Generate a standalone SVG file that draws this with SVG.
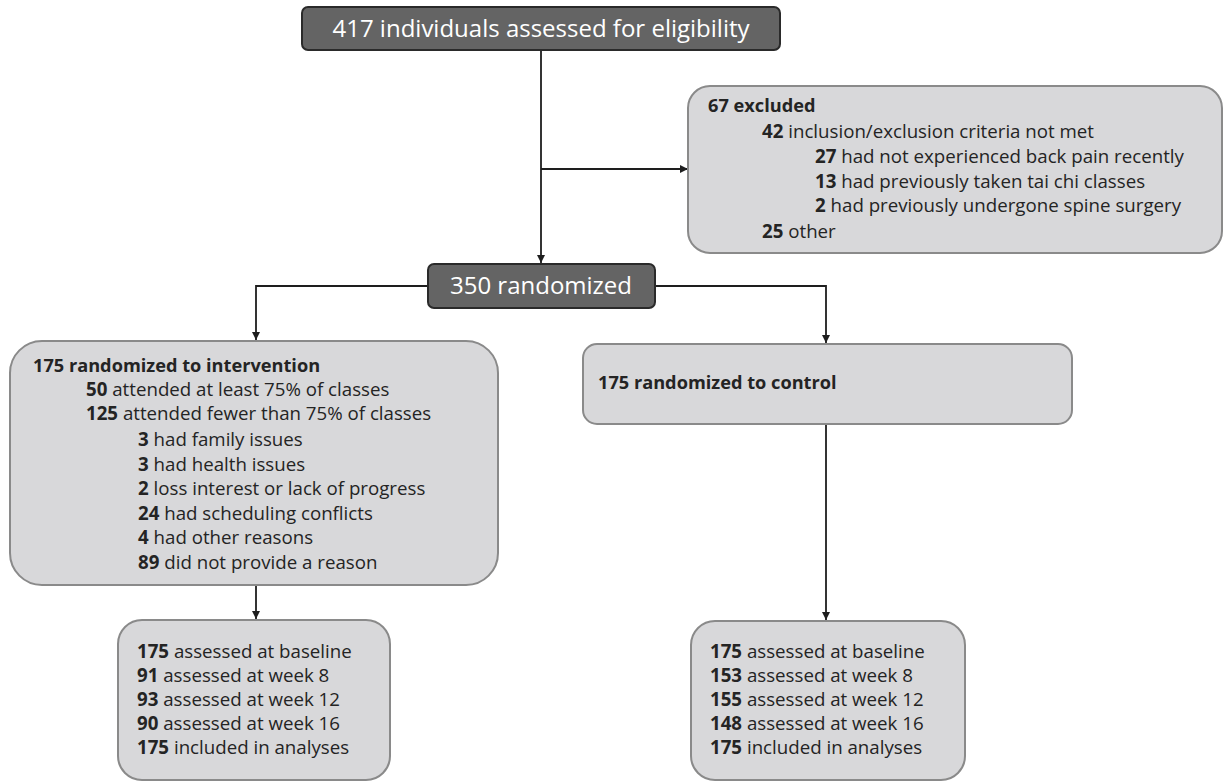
<svg xmlns="http://www.w3.org/2000/svg" width="1224" height="782" viewBox="0 0 1224 782">
<defs>
<marker id="arr" viewBox="0 0 10 10" refX="10" refY="5" markerWidth="9" markerHeight="8" markerUnits="userSpaceOnUse" orient="auto">
<path d="M0,0 L10,5 L0,10 z" fill="#1e1e1e"/>
</marker>
</defs>
<style>
.dark{fill:#646464;stroke:#2a2a2a;stroke-width:2}
.light{fill:#d8d8da;stroke:#8a8a8a;stroke-width:2}
.ht{font-family:"Open Sans","Liberation Sans",Arial,sans-serif;font-size:24px;fill:#ffffff}
.t{font-family:"Open Sans","Liberation Sans",Arial,sans-serif;font-size:18.7px;fill:#242424}
.b{font-weight:bold}
.h{font-weight:bold;font-size:18.2px}
.conn{fill:none;stroke:#1e1e1e;stroke-width:1.8}
</style>
<rect width="1224" height="782" fill="#ffffff"/>
<g id="connectors">
<path class="conn" d="M541,50 L541,263" marker-end="url(#arr)"/>
<path class="conn" d="M541,169 L688,169" marker-end="url(#arr)"/>
<path class="conn" d="M428,286 L256,286 L256,340" marker-end="url(#arr)"/>
<path class="conn" d="M655,286 L826,286 L826,343" marker-end="url(#arr)"/>
<path class="conn" d="M256,585 L256,619" marker-end="url(#arr)"/>
<path class="conn" d="M826,424 L826,620" marker-end="url(#arr)"/>
</g>
<g id="assessed">
<rect class="dark" x="302" y="7" width="478" height="43" rx="6"/>
<text class="ht" x="541" y="37" text-anchor="middle">417 individuals assessed for eligibility</text>
</g>
<g id="excluded">
<rect class="light" x="688" y="86" width="534" height="167" rx="22"/>
<text class="t h" x="708" y="112">67 excluded</text>
<text class="t" x="762" y="138"><tspan class="b">42</tspan> inclusion/exclusion criteria not met</text>
<text class="t" x="815" y="163"><tspan class="b">27</tspan> had not experienced back pain recently</text>
<text class="t" x="815" y="188"><tspan class="b">13</tspan> had previously taken tai chi classes</text>
<text class="t" x="815" y="212"><tspan class="b">2</tspan> had previously undergone spine surgery</text>
<text class="t" x="762" y="238"><tspan class="b">25</tspan> other</text>
</g>
<g id="randomized">
<rect class="dark" x="428" y="264" width="227" height="44" rx="6"/>
<text class="ht" x="541" y="294" text-anchor="middle">350 randomized</text>
</g>
<g id="intervention">
<rect class="light" x="10" y="341" width="488" height="244" rx="32"/>
<text class="t h" x="33" y="372">175 randomized to intervention</text>
<text class="t" x="86" y="396"><tspan class="b">50</tspan> attended at least 75% of classes</text>
<text class="t" x="86" y="420"><tspan class="b">125</tspan> attended fewer than 75% of classes</text>
<text class="t" x="138" y="446"><tspan class="b">3</tspan> had family issues</text>
<text class="t" x="138" y="471"><tspan class="b">3</tspan> had health issues</text>
<text class="t" x="138" y="495"><tspan class="b">2</tspan> loss interest or lack of progress</text>
<text class="t" x="138" y="520"><tspan class="b">24</tspan> had scheduling conflicts</text>
<text class="t" x="138" y="544"><tspan class="b">4</tspan> had other reasons</text>
<text class="t" x="138" y="569"><tspan class="b">89</tspan> did not provide a reason</text>
</g>
<g id="control">
<rect class="light" x="583" y="344" width="489" height="80" rx="14"/>
<text class="t h" x="598" y="389">175 randomized to control</text>
</g>
<g id="int-assess">
<rect class="light" x="118" y="620" width="272" height="160" rx="24"/>
<text class="t" x="137" y="658"><tspan class="b">175</tspan> assessed at baseline</text>
<text class="t" x="137" y="682"><tspan class="b">91</tspan> assessed at week 8</text>
<text class="t" x="137" y="706"><tspan class="b">93</tspan> assessed at week 12</text>
<text class="t" x="137" y="730"><tspan class="b">90</tspan> assessed at week 16</text>
<text class="t" x="137" y="754"><tspan class="b">175</tspan> included in analyses</text>
</g>
<g id="ctl-assess">
<rect class="light" x="691" y="621" width="274" height="159" rx="24"/>
<text class="t" x="710" y="658"><tspan class="b">175</tspan> assessed at baseline</text>
<text class="t" x="710" y="682"><tspan class="b">153</tspan> assessed at week 8</text>
<text class="t" x="710" y="706"><tspan class="b">155</tspan> assessed at week 12</text>
<text class="t" x="710" y="730"><tspan class="b">148</tspan> assessed at week 16</text>
<text class="t" x="710" y="754"><tspan class="b">175</tspan> included in analyses</text>
</g>
</svg>
